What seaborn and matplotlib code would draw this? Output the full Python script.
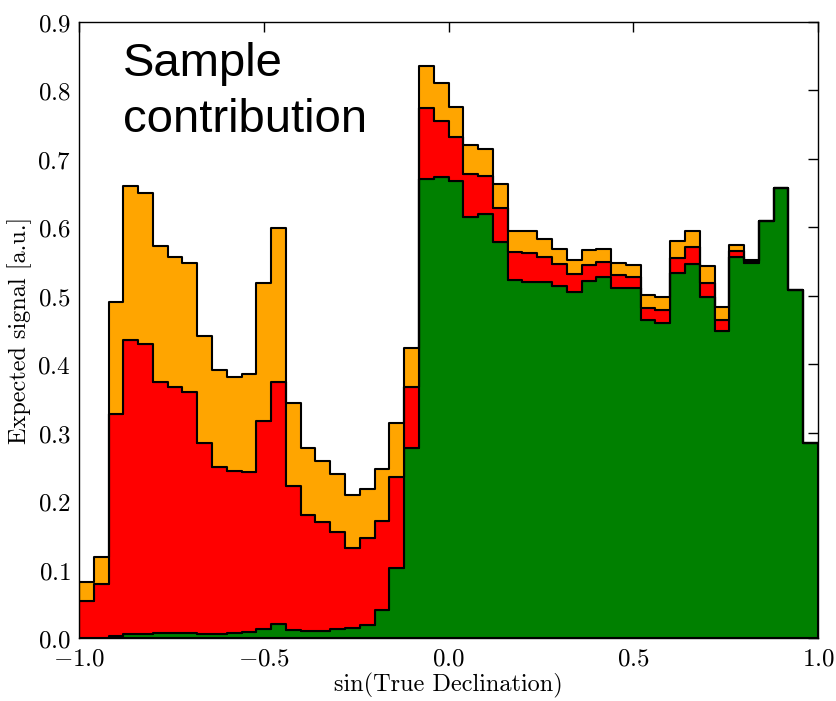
import numpy as np
import pandas as pd
import matplotlib
matplotlib.use("Agg")
import matplotlib.pyplot as plt
import seaborn as sns
from matplotlib.ticker import FuncFormatter, MultipleLocator

# 50 bins in sin(true declination) from -1 to 1
bin_edges = np.linspace(-1.0, 1.0, 51)
bin_centers = 0.5 * (bin_edges[:-1] + bin_edges[1:])

# per-sample contributions (stacked: green bottom, red middle, orange top)
green_vals = [0.0, 0.0, 0.0034, 0.006, 0.006, 0.0078, 0.007, 0.007, 0.006, 0.0054,
              0.007, 0.0088, 0.0136, 0.020, 0.0117, 0.010, 0.010, 0.0127, 0.014, 0.019,
              0.041, 0.102, 0.277, 0.670, 0.6736, 0.6677, 0.6156, 0.620, 0.579, 0.523,
              0.5206, 0.5197, 0.515, 0.5056, 0.522, 0.527, 0.512, 0.511, 0.464, 0.460,
              0.533, 0.5465, 0.4987, 0.4486, 0.557, 0.5484, 0.609, 0.6575, 0.5085, 0.2845]
red_vals = [0.0545, 0.0789, 0.3236, 0.429, 0.423, 0.3667, 0.359, 0.353, 0.279, 0.2446,
            0.237, 0.2337, 0.304, 0.3545, 0.2103, 0.170, 0.159, 0.1423, 0.118, 0.1266,
            0.1304, 0.1337, 0.090, 0.105, 0.0814, 0.0639, 0.0619, 0.055, 0.0498, 0.0415,
            0.0424, 0.0373, 0.0315, 0.0264, 0.023, 0.023, 0.018, 0.017, 0.0186, 0.019,
            0.0218, 0.0245, 0.0203, 0.0154, 0.0085, 0.0021, 0.0, 0.0, 0.0, 0.0]
orange_vals = [0.0269, 0.0391, 0.1635, 0.226, 0.221, 0.1975, 0.190, 0.188, 0.156, 0.141,
               0.138, 0.1425, 0.2014, 0.2241, 0.121, 0.098, 0.090, 0.085, 0.0765, 0.0721,
               0.076, 0.078, 0.057, 0.060, 0.0555, 0.0438, 0.0433, 0.039, 0.0352, 0.0305,
               0.031, 0.0255, 0.0225, 0.021, 0.0215, 0.018, 0.018, 0.017, 0.0184, 0.019,
               0.0248, 0.024, 0.024, 0.020, 0.0085, 0.0015, 0.0, 0.0, 0.0, 0.0]

samples = ["Sample C", "Sample B", "Sample A"]   # top -> bottom
colors = {"Sample A": "green", "Sample B": "red", "Sample C": "orange"}

df = pd.concat([
    pd.DataFrame({"x": bin_centers, "w": orange_vals, "sample": "Sample C"}),
    pd.DataFrame({"x": bin_centers, "w": red_vals, "sample": "Sample B"}),
    pd.DataFrame({"x": bin_centers, "w": green_vals, "sample": "Sample A"}),
], ignore_index=True)

sns.set_style("white")
plt.rcParams["mathtext.fontset"] = "cm"
plt.rcParams["font.family"] = ["DejaVu Sans"]
plt.rcParams["text.color"] = "black"

fig = plt.figure(figsize=(8.37, 7.01), dpi=100)
ax = fig.add_axes([0.0944, 0.0899, 0.8829, 0.8787])

sns.histplot(data=df, x="x", weights="w", hue="sample", hue_order=samples,
             bins=bin_edges.tolist(), multiple="stack", element="step", palette=colors,
             alpha=1.0, edgecolor="black", linewidth=1.5, legend=False, ax=ax)

ax.set_xlim(-1.0, 1.0)
ax.set_ylim(0.0, 0.9)
ax.xaxis.set_major_locator(MultipleLocator(0.5))
ax.yaxis.set_major_locator(MultipleLocator(0.1))
fmt = FuncFormatter(lambda v, p: r"$%.1f$" % v)
ax.xaxis.set_major_formatter(fmt)
ax.yaxis.set_major_formatter(fmt)
ax.tick_params(direction="in", length=7, width=1, top=True, right=True,
               labelsize=18, colors="black", pad=6)
for s in ax.spines.values():
    s.set_visible(True)
    s.set_color("black")
    s.set_linewidth(1.0)

ax.set_xlabel("sin(True Declination)", fontsize=17.5, family=["cmr10", "DejaVu Serif"],
              color="black", labelpad=2)
ax.set_ylabel("Expected signal [a.u.]", fontsize=17.5, family=["cmr10", "DejaVu Serif"],
              color="black", labelpad=4)

ax.text(0.059, 0.968, "Sample\ncontribution", transform=ax.transAxes,
        fontsize=34, family=["Liberation Sans", "DejaVu Sans"], va="top", ha="left",
        color="black", linespacing=1.35)

fig.savefig("out.png", dpi=100)
